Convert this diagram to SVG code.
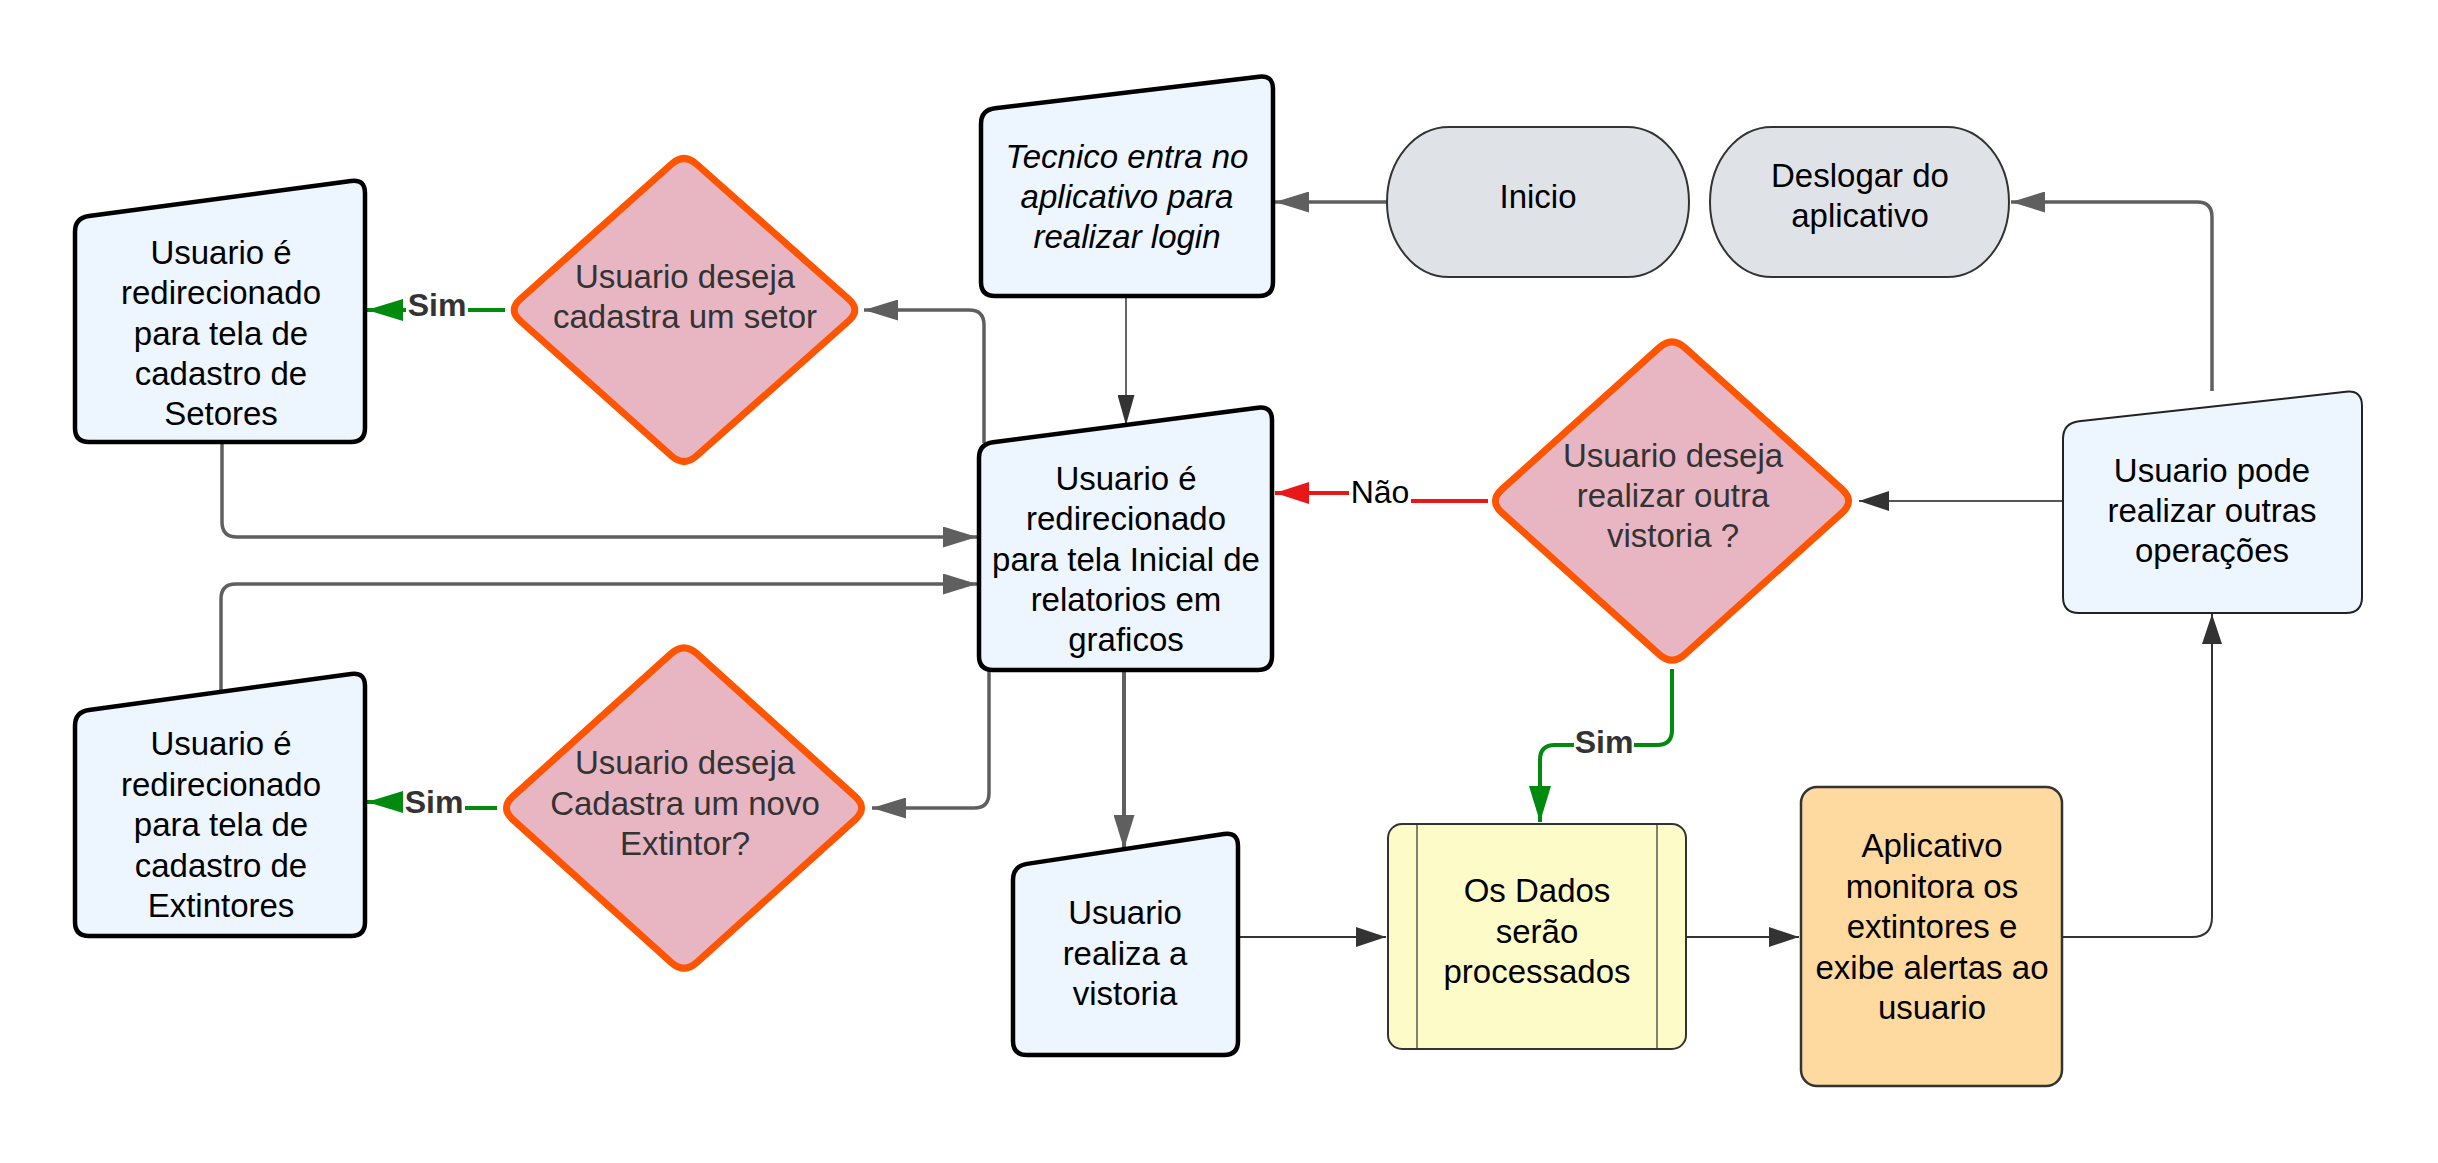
<svg xmlns="http://www.w3.org/2000/svg" width="2438" height="1163" viewBox="0 0 2438 1163">
<defs>
<style>
text{font-family:"Liberation Sans",Arial,sans-serif;font-size:33px;text-anchor:middle;fill:#000}
.it{font-style:italic}
.dt{fill:#333}
.lbl{font-size:32px}
.b{font-weight:bold;fill:#333}
.io{fill:#edf5ff;stroke:#000;stroke-width:4.5}
.io2{fill:#edf5ff;stroke:#222;stroke-width:2}
.term{fill:#dfe3e8;stroke:#333;stroke-width:2}
.dia{fill:#e8b6c3;stroke:#ff5500;stroke-width:7;stroke-linejoin:round}
.proc{fill:#fdfbc8;stroke:#333;stroke-width:2}
.orange{fill:#fed9a0;stroke:#333;stroke-width:2.5}
.c{fill:none;stroke:#5f5f5f;stroke-width:3.5}
.cd{fill:none;stroke:#333;stroke-width:2}
.cg{fill:none;stroke:#008a0e;stroke-width:4}
.cr{fill:none;stroke:#e81818;stroke-width:4}
.bg{fill:#fff}
</style>
<marker id="ag" markerUnits="userSpaceOnUse" markerWidth="34" markerHeight="21" refX="34" refY="10.5" orient="auto"><path d="M0,0 L34,10.5 L0,21 Z" fill="#5f5f5f"/></marker>
<marker id="ad" markerUnits="userSpaceOnUse" markerWidth="30" markerHeight="20" refX="30" refY="10" orient="auto"><path d="M0,0 L30,10 L0,20 Z" fill="#333"/></marker>
<marker id="ads" markerUnits="userSpaceOnUse" markerWidth="30" markerHeight="17" refX="30" refY="8.5" orient="auto"><path d="M0,0 L30,8.5 L0,17 Z" fill="#333"/></marker>
<marker id="agr" markerUnits="userSpaceOnUse" markerWidth="36" markerHeight="22" refX="36" refY="11" orient="auto"><path d="M0,0 L36,11 L0,22 Z" fill="#008a0e"/></marker>
<marker id="ar" markerUnits="userSpaceOnUse" markerWidth="34" markerHeight="22" refX="34" refY="11" orient="auto"><path d="M0,0 L34,11 L0,22 Z" fill="#e81818"/></marker>
</defs>
<rect width="2438" height="1163" fill="#fff"/>

<g id="connectors">
<path class="c" d="M1387,202 L1275,202" marker-end="url(#ag)"/>
<path class="cd" style="stroke-width:1.5" d="M1126,296 L1126,425" marker-end="url(#ads)"/>
<path class="c" d="M984,443 L984,325 Q984,310 969,310 L864,310" marker-end="url(#ag)"/>
<path class="c" d="M222,442 L222,522 Q222,537 237,537 L977,537" marker-end="url(#ag)"/>
<path class="c" d="M221,692 L221,599 Q221,584 236,584 L977,584" marker-end="url(#ag)"/>
<path class="c" d="M989,670 L989,793 Q989,808 974,808 L872,808" marker-end="url(#ag)"/>
<path class="c" style="stroke-width:4" d="M1124,670 L1124,849" marker-end="url(#ag)"/>
<path class="cd" d="M1238,937 L1386,937" marker-end="url(#ad)"/>
<path class="cd" d="M1686,937 L1799,937" marker-end="url(#ad)"/>
<path class="cd" d="M2062,937 L2192,937 Q2212,937 2212,917 L2212,614" marker-end="url(#ad)"/>
<path class="cd" style="stroke:#555" d="M2063,501 L1859,501" marker-end="url(#ad)"/>
<path class="c" d="M2212,391 L2212,217 Q2212,202 2197,202 L2011,202" marker-end="url(#ag)"/>
<path class="cr" d="M1488,501 L1380,501 L1380,493 L1275,493" marker-end="url(#ar)"/>
<rect class="bg" x="1349" y="476" width="62" height="34"/>
<text class="lbl" x="1380" y="503">Não</text>
<path class="cg" d="M505,310 L367,310" marker-end="url(#agr)"/>
<rect class="bg" x="406" y="292" width="62" height="34"/>
<text class="lbl b" x="437" y="316">Sim</text>
<path class="cg" d="M497,808 L435,808 L435,802 L367,802" marker-end="url(#agr)"/>
<rect class="bg" x="403" y="786" width="62" height="32"/>
<text class="lbl b" x="434" y="813">Sim</text>
<path class="cg" d="M1672,669 L1672,730 Q1672,745 1657,745 L1555,745 Q1540,745 1540,760 L1540,822" marker-end="url(#agr)"/>
<rect class="bg" x="1574" y="727" width="60" height="32"/>
<text class="lbl b" x="1604" y="753">Sim</text>
</g>

<g id="node-tecnico">
<path class="io" d="M981,124 L981,282 Q981,296 995,296 L1259,296 Q1273,296 1273,282 L1273,89 Q1273,75 1259,76.7 L995,108.3 Q981,110 981,124 Z"/>
<text class="it" x="1127" y="168">Tecnico entra no</text>
<text class="it" x="1127" y="208">aplicativo para</text>
<text class="it" x="1127" y="248">realizar login</text>
</g>

<g id="node-inicio">
<rect class="term" x="1387" y="127" width="302" height="150" rx="62" ry="75"/>
<text x="1538" y="208">Inicio</text>
</g>

<g id="node-deslogar">
<rect class="term" x="1710" y="127" width="299" height="150" rx="62" ry="75"/>
<text x="1860" y="187">Deslogar do</text>
<text x="1860" y="227">aplicativo</text>
</g>

<g id="node-setores">
<path class="io" d="M75,232 L75,428 Q75,442 89,442 L351,442 Q365,442 365,428 L365,193 Q365,179 351,180.9 L89,216.1 Q75,218 75,232 Z"/>
<text x="221" y="264">Usuario é</text>
<text x="221" y="304">redirecionado</text>
<text x="221" y="345">para tela de</text>
<text x="221" y="385">cadastro de</text>
<text x="221" y="425">Setores</text>
</g>

<g id="node-dec-setor">
<path class="dia" d="M520.4,299 L671.6,164 Q684,153 696.4,164 L848.6,299 Q861,310 848.6,321 L696.4,456 Q684,467 671.6,456 L520.4,321 Q508,310 520.4,299 Z"/>
<text class="dt" x="685" y="288">Usuario deseja</text>
<text class="dt" x="685" y="328">cadastra um setor</text>
</g>

<g id="node-central">
<path class="io" d="M979,458 L979,656 Q979,670 993,670 L1258,670 Q1272,670 1272,656 L1272,420 Q1272,406 1258,407.8 L993,442.2 Q979,444 979,458 Z"/>
<text x="1126" y="490">Usuario é</text>
<text x="1126" y="530">redirecionado</text>
<text x="1126" y="571">para tela Inicial de</text>
<text x="1126" y="611">relatorios em</text>
<text x="1126" y="651">graficos</text>
</g>

<g id="node-extintores">
<path class="io" d="M75,726 L75,922 Q75,936 89,936 L351,936 Q365,936 365,922 L365,686 Q365,672 351,673.9 L89,710.1 Q75,712 75,726 Z"/>
<text x="221" y="755">Usuario é</text>
<text x="221" y="796">redirecionado</text>
<text x="221" y="836">para tela de</text>
<text x="221" y="877">cadastro de</text>
<text x="221" y="917">Extintores</text>
</g>

<g id="node-dec-extintor">
<path class="dia" d="M512.9,796.4 L671.1,653.6 Q684,642 696.9,653.6 L855.1,796.4 Q868,808 855.1,819.6 L696.9,962.4 Q684,974 671.1,962.4 L512.9,819.6 Q500,808 512.9,796.4 Z"/>
<text class="dt" x="685" y="774">Usuario deseja</text>
<text class="dt" x="685" y="815">Cadastra um novo</text>
<text class="dt" x="685" y="855">Extintor?</text>
</g>

<g id="node-dec-vistoria">
<path class="dia" d="M1501.8,489.4 L1659.2,347.6 Q1672,336 1684.8,347.6 L1842.2,489.4 Q1855,501 1842.2,512.6 L1684.8,654.4 Q1672,666 1659.2,654.4 L1501.8,512.6 Q1489,501 1501.8,489.4 Z"/>
<text class="dt" x="1673" y="467">Usuario deseja</text>
<text class="dt" x="1673" y="507">realizar outra</text>
<text class="dt" x="1673" y="547">vistoria ?</text>
</g>

<g id="node-outras">
<path class="io2" d="M2063,439 L2063,597 Q2063,613 2079,613 L2346,613 Q2362,613 2362,597 L2362,406 Q2362,390 2346,391.8 L2079,421.2 Q2063,423 2063,439 Z"/>
<text x="2212" y="482">Usuario pode</text>
<text x="2212" y="522">realizar outras</text>
<text x="2212" y="562">operações</text>
</g>

<g id="node-vistoria">
<path class="io" d="M1013,880 L1013,1041 Q1013,1055 1027,1055 L1224,1055 Q1238,1055 1238,1041 L1238,846 Q1238,832 1224,834.1 L1027,863.9 Q1013,866 1013,880 Z"/>
<text x="1125" y="924">Usuario</text>
<text x="1125" y="965">realiza a</text>
<text x="1125" y="1005">vistoria</text>
</g>

<g id="node-dados">
<rect class="proc" x="1388" y="824" width="298" height="225" rx="14"/>
<line x1="1417" y1="824" x2="1417" y2="1049" stroke="#333" stroke-width="1.2"/>
<line x1="1657" y1="824" x2="1657" y2="1049" stroke="#333" stroke-width="1.2"/>
<text x="1537" y="902">Os Dados</text>
<text x="1537" y="943">serão</text>
<text x="1537" y="983">processados</text>
</g>

<g id="node-aplicativo">
<rect class="orange" x="1801" y="787" width="261" height="299" rx="16"/>
<text x="1932" y="857">Aplicativo</text>
<text x="1932" y="898">monitora os</text>
<text x="1932" y="938">extintores e</text>
<text x="1932" y="979">exibe alertas ao</text>
<text x="1932" y="1019">usuario</text>
</g>
</svg>
